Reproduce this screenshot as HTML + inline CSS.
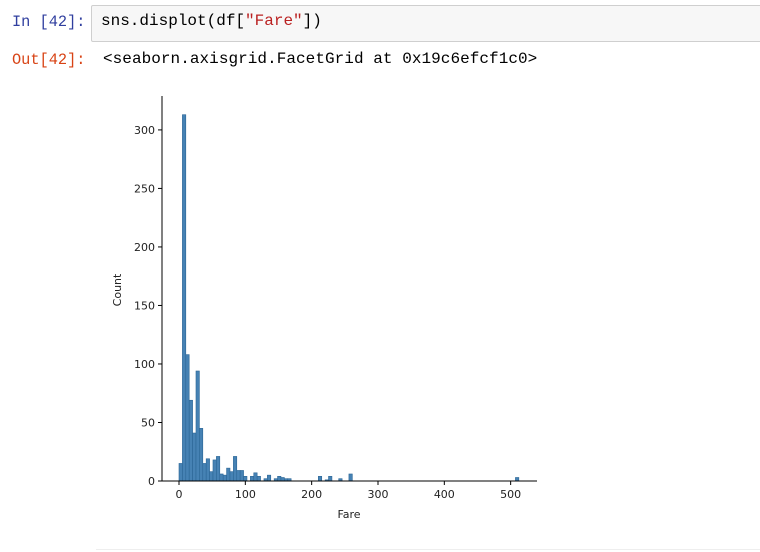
<!DOCTYPE html>
<html><head><meta charset="utf-8"><style>
body{margin:0;width:760px;height:552px;background:#fff;overflow:hidden;position:relative;font-family:"Liberation Mono",monospace;}
.p{position:absolute;font-size:16px;white-space:pre;}
</style></head><body>
<div class="p" style="left:12px;top:13px;color:#303F9F;font-size:15.3px">In [42]:</div>
<div style="position:absolute;left:91px;top:5px;width:680px;height:37px;background:#f7f7f7;border:1px solid #cfcfcf;border-radius:2px;box-sizing:border-box"></div>
<div class="p" style="left:101px;top:12px;color:#000">sns.displot(df[<span style="color:#BA2121">"Fare"</span>])</div>
<div class="p" style="left:12px;top:51px;color:#D84315;font-size:15.3px">Out[42]:</div>
<div class="p" style="left:103px;top:50px;color:#000;letter-spacing:0.05px">&lt;seaborn.axisgrid.FacetGrid at 0x19c6efcf1c0&gt;</div>
<div style="position:absolute;left:96px;top:549px;width:664px;height:1px;background:#eee"></div>
<svg id="chart" width="760" height="552" style="position:absolute;left:0;top:0" font-family="DejaVu Sans, sans-serif" font-size="11"></svg>
<script>
const binWidth = 5.1233;
const counts = [15,313,108,69,41,94,45,15,19,8,18,21,6,5,11,8,21,9,9,4,0,4,7,4,0,2,5,0,2,4,3,2,2,0,0,0,0,0,0,0,0,4,0,1,4,0,0,2,0,0,6,0,0,0,0,0,0,0,0,0,0,0,0,0,0,0,0,0,0,0,0,0,0,0,0,0,0,0,0,0,0,0,0,0,0,0,0,0,0,0,0,0,0,0,0,0,0,0,0,3];
const xTicks = [0,100,200,300,400,500];
const yTicks = [0,50,100,150,200,250,300];
const NS='http://www.w3.org/2000/svg';
const svg=document.getElementById('chart');
const x=v=>179+v*0.6633;
const y=v=>481-v*1.1703;
function mk(t,a){const e=document.createElementNS(NS,t);for(const k in a)e.setAttribute(k,a[k]);svg.appendChild(e);return e;}
counts.forEach((c,i)=>{if(!c)return;
 const r=mk('rect',{x:x(i*binWidth),y:y(c),width:x(binWidth)-x(0),height:y(0)-y(c),fill:'#4682b4',stroke:'#2c6696','stroke-width':0.6});
 
 
});
const sp1=mk('line',{x1:162,y1:96,x2:162,y2:481,stroke:'#000','stroke-width':1});


const sp2=mk('line',{x1:162,y1:481,x2:537,y2:481,stroke:'#000','stroke-width':1});


xTicks.forEach(v=>{mk('line',{x1:x(v),x2:x(v),y1:481,y2:485,stroke:'#000'});
 const t=mk('text',{x:x(v),y:498,'text-anchor':'middle',fill:'#222'});t.textContent=v;
 
 });
yTicks.forEach(v=>{mk('line',{x1:158,x2:162,y1:y(v),y2:y(v),stroke:'#000'});
 const t=mk('text',{x:155,y:y(v)+4,'text-anchor':'end',fill:'#222'});t.textContent=v;
 
 });
const xl=mk('text',{x:349,y:518,'text-anchor':'middle',fill:'#222'});xl.textContent='Fare';


const yl=mk('text',{x:121,y:290,'text-anchor':'middle',fill:'#222',transform:'rotate(-90 121 290)'});yl.textContent='Count';


</script>
</body></html>
